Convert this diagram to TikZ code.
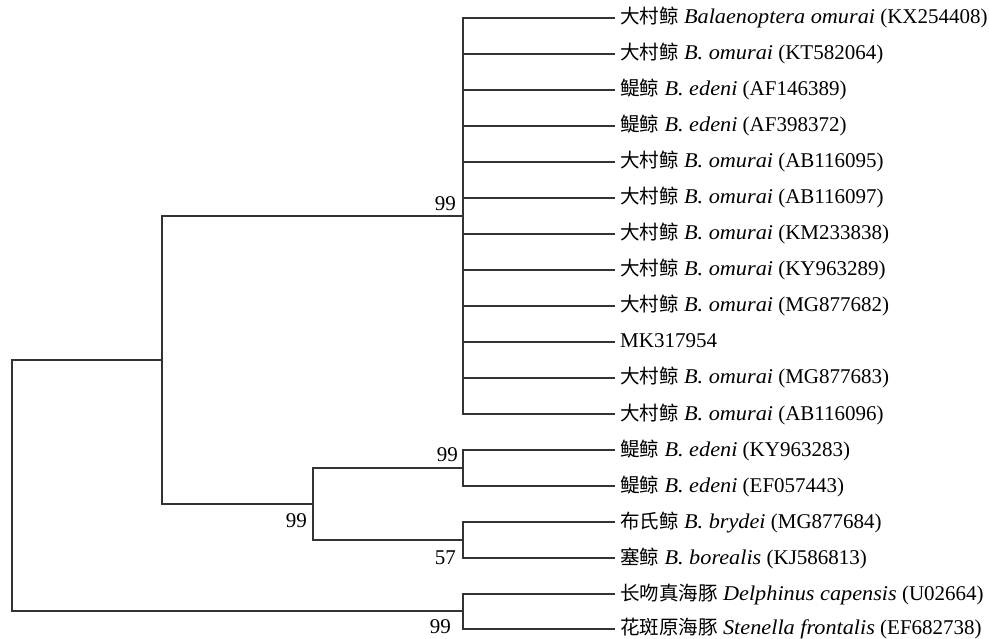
\documentclass[tikz,border=0pt]{standalone}
\usepackage{fontspec}
\setmainfont{Liberation Serif}[ItalicFeatures={FakeStretch=1.06}]
\newfontfamily\cjk{Noto Sans CJK SC}[Scale=0.93]
\begin{document}
\begin{tikzpicture}[x=1pt,y=-1pt,
  branch/.style={line width=1.1pt, draw=black!80},
  leaflab/.style={anchor=base west, inner sep=0pt, font=\fontsize{21}{25}\selectfont},
  support/.style={anchor=base east, inner sep=0pt, font=\fontsize{21}{25}\selectfont}]
\useasboundingbox (0,0) rectangle (989,639);
% internal nodes
\coordinate (root) at (12,486);
\coordinate (n1) at (162,360);
\coordinate (nA) at (463,216);
\coordinate (nB) at (313,504);
\coordinate (nE) at (463,468);
\coordinate (nBB) at (463,540);
\coordinate (nOut) at (463,611);
% leaf tips
\foreach \i in {0,...,16}{
  \coordinate (t\i) at (615,{18+36*\i});
}
\coordinate (t17) at (615,629);
% labels
\node[leaflab] (L0) at (620,24) {{\cjk 大村鲸} \textit{Balaenoptera omurai} (KX254408)};
\node[leaflab] (L1) at (620,60) {{\cjk 大村鲸} \textit{B. omurai} (KT582064)};
\node[leaflab] (L2) at (620,96) {{\cjk 鳀鲸} \textit{B. edeni} (AF146389)};
\node[leaflab] (L3) at (620,132) {{\cjk 鳀鲸} \textit{B. edeni} (AF398372)};
\node[leaflab] (L4) at (620,168) {{\cjk 大村鲸} \textit{B. omurai} (AB116095)};
\node[leaflab] (L5) at (620,204) {{\cjk 大村鲸} \textit{B. omurai} (AB116097)};
\node[leaflab] (L6) at (620,240) {{\cjk 大村鲸} \textit{B. omurai} (KM233838)};
\node[leaflab] (L7) at (620,276) {{\cjk 大村鲸} \textit{B. omurai} (KY963289)};
\node[leaflab] (L8) at (620,312) {{\cjk 大村鲸} \textit{B. omurai} (MG877682)};
\node[leaflab] (L9) at (620,348) {MK317954};
\node[leaflab] (L10) at (620,384) {{\cjk 大村鲸} \textit{B. omurai} (MG877683)};
\node[leaflab] (L11) at (620,420) {{\cjk 大村鲸} \textit{B. omurai} (AB116096)};
\node[leaflab] (L12) at (620,456) {{\cjk 鳀鲸} \textit{B. edeni} (KY963283)};
\node[leaflab] (L13) at (620,492) {{\cjk 鳀鲸} \textit{B. edeni} (EF057443)};
\node[leaflab] (L14) at (620,528) {{\cjk 布氏鲸} \textit{B. brydei} (MG877684)};
\node[leaflab] (L15) at (620,564) {{\cjk 塞鲸} \textit{B. borealis} (KJ586813)};
\node[leaflab] (L16) at (620,600) {{\cjk 长吻真海豚} \textit{Delphinus capensis} (U02664)};
\node[leaflab] (L17) at (620,634) {{\cjk 花斑原海豚} \textit{Stenella frontalis} (EF682738)};
% branches
\foreach \i in {0,...,11}{ \draw[branch] (nA) |- (t\i); }
\draw[branch] (nE) |- (t12); \draw[branch] (nE) |- (t13);
\draw[branch] (nBB) |- (t14); \draw[branch] (nBB) |- (t15);
\draw[branch] (nOut) |- (t16); \draw[branch] (nOut) |- (t17);
\draw[branch] (nB) |- (nE); \draw[branch] (nB) |- (nBB);
\draw[branch] (n1) |- (nA); \draw[branch] (n1) |- (nB);
\draw[branch] (root) |- (n1); \draw[branch] (root) |- (nOut);
% support values
\node[support] (sA) at (456,211) {99};
\node[support] (sE) at (458,461) {99};
\node[support] (sBB) at (456,564) {57};
\node[support] (sB) at (307,527) {99};
\node[support] (sOut) at (451,633) {99};
\end{tikzpicture}
\end{document}
